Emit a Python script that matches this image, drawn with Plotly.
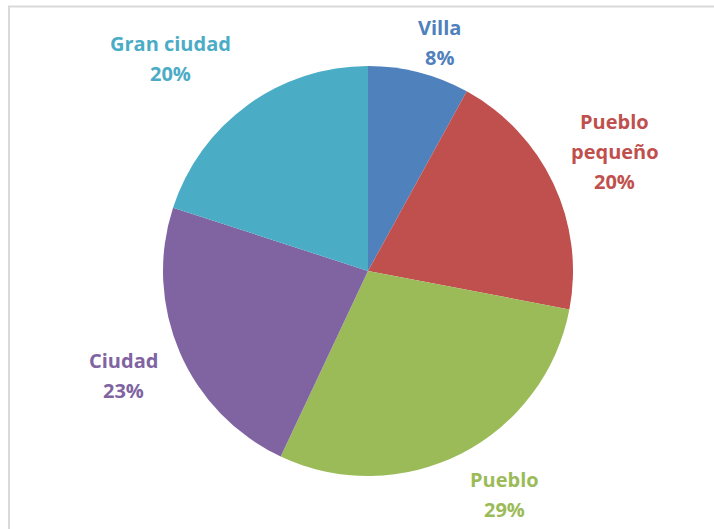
import math
import plotly.graph_objects as go

# ---- data ----
categories = ["Villa", "Pueblo pequeño", "Pueblo", "Ciudad", "Gran ciudad"]
label_lines = [["Villa"], ["Pueblo", "pequeño"], ["Pueblo"], ["Ciudad"], ["Gran ciudad"]]
values = [8, 20, 29, 23, 20]
colors = ["#4F81BD", "#C0504D", "#9BBB59", "#8064A2", "#4BACC6"]

# ---- layout constants (pixels) ----
W, H = 714, 529
CX, CY, R = 368, 271, 205
FONT = 20
LINE = 30
GAP = 20

fig = go.Figure(
    go.Pie(
        labels=categories,
        values=values,
        sort=False,
        direction="clockwise",
        rotation=0,
        marker=dict(colors=colors, line=dict(width=0)),
        textinfo="none",
        hoverinfo="label+percent",
        showlegend=False,
        domain=dict(x=[(CX - R) / W, (CX + R) / W],
                    y=[1 - (CY + R) / H, 1 - (CY - R) / H]),
    )
)


def clip(v):
    return max(-1.0, min(1.0, v))


total = sum(values)
annotations = []
cum = 0.0
for i, v in enumerate(values):
    mid = (cum + v / 2) / total * 2 * math.pi
    cum += v
    dx, dy = math.sin(mid), -math.cos(mid)
    px, py = CX + dx * (R + GAP), CY + dy * (R + GAP)
    lines = label_lines[i] + [f"{round(100 * v / total)}%"]
    hw = max(len(s) for s in lines) * 0.56 * FONT / 2 + 4
    hh = len(lines) * LINE / 2
    lx = px + hw * clip(dx / 0.5)
    ly = py + hh * clip(dy / 0.8)
    ly = max(ly, 12 + hh)
    ly = min(ly, H - 5 - hh)
    lx = max(lx, 14 + hw)
    lx = min(lx, W - 5 - hw)
    n = len(lines)
    for j, s in enumerate(lines):
        yy = ly + (j - (n - 1) / 2) * LINE
        annotations.append(dict(
            x=lx / W, y=1 - yy / H, xref="paper", yref="paper",
            text=f"<b>{s}</b>", showarrow=False,
            xanchor="center", yanchor="middle",
            font=dict(family="Open Sans", size=FONT, color=colors[i]),
        ))

fig.update_layout(
    width=W, height=H,
    margin=dict(l=0, r=0, t=0, b=0),
    paper_bgcolor="white",
    plot_bgcolor="white",
    annotations=annotations,
    shapes=[dict(type="rect", xref="paper", yref="paper",
                 x0=9 / W, x1=1.05, y0=-0.05, y1=1 - 6.5 / H,
                 line=dict(color="#d9d9d9", width=2), fillcolor="rgba(0,0,0,0)")],
)

fig.write_html(
    "out.html",
    config={"displayModeBar": False},
    post_script="document.body.style.margin='0';document.body.style.overflow='hidden';",
)
